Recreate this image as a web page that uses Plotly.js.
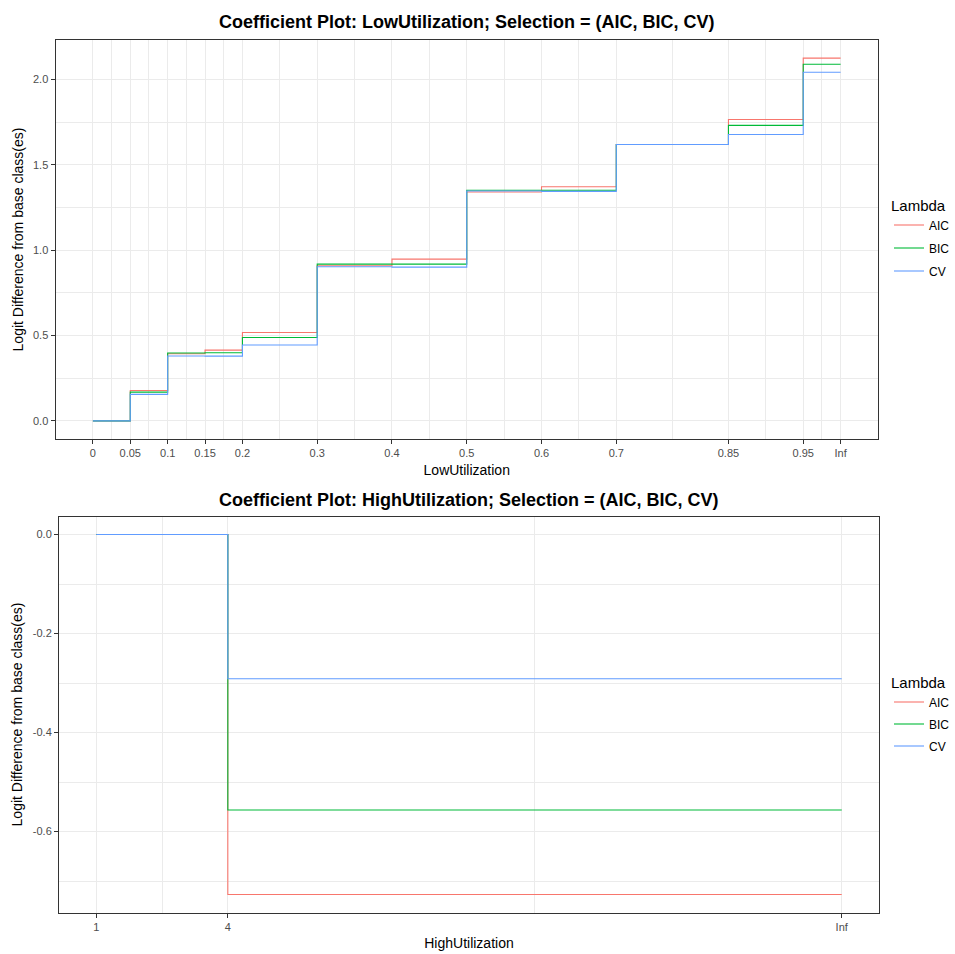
<!DOCTYPE html>
<html>
<head>
<meta charset="utf-8">
<script src="https://cdn.plot.ly/plotly-3.0.1.min.js"></script>
<style>html,body{margin:0;padding:0;background:#fff;}#chart{width:955px;height:954px;}</style>
</head>
<body>
<div id="chart"></div>
<script>
// ---- Data ----
const lambdas = ['AIC', 'BIC', 'CV'];
const colors = ['#F8766D', '#00BA38', '#619CFF'];

// LowUtilization breaks (Inf drawn at position 1.0)
const lowBreakLabels = ['0','0.05','0.1','0.15','0.2','0.3','0.4','0.5','0.6','0.7','0.85','0.95','Inf'];
const lowBreakPos = [0, 0.05, 0.1, 0.15, 0.2, 0.3, 0.4, 0.5, 0.6, 0.7, 0.85, 0.95, 1.0];
const lowAIC = [0, 0.178, 0.393, 0.414, 0.517, 0.908, 0.947, 1.340, 1.371, 1.618, 1.765, 2.124];
const lowBIC = [0, 0.168, 0.397, 0.399, 0.488, 0.918, 0.918, 1.350, 1.350, 1.618, 1.730, 2.088];
const lowCV  = [0, 0.155, 0.380, 0.379, 0.444, 0.902, 0.900, 1.346, 1.344, 1.618, 1.677, 2.041];

// HighUtilization breaks (Inf drawn at position 18)
const highBreakLabels = ['1', '4', 'Inf'];
const highBreakPos = [1, 4, 18];
const highAIC = [0, -0.727];
const highBIC = [0, -0.5565];
const highCV  = [0, -0.2915];

const lowTickY = [0, 0.5, 1.0, 1.5, 2.0];
const lowTickYText = ['0.0', '0.5', '1.0', '1.5', '2.0'];
const highTickY = [0, -0.2, -0.4, -0.6];
const highTickYText = ['0.0', '-0.2', '-0.4', '-0.6'];

// ---- helpers ----
function stepY(vals) { return vals.concat([vals[vals.length - 1]]); }
function mids(arr) { const m = []; for (let i = 0; i < arr.length - 1; i++) m.push((arr[i] + arr[i + 1]) / 2); return m; }
function minorY(ticks) { return mids(ticks.slice().sort((a, b) => a - b)); }

const lowSeries = [lowAIC, lowBIC, lowCV];
const highSeries = [highAIC, highBIC, highCV];

const traces = [];
lowSeries.forEach((s, i) => {
  traces.push({
    x: lowBreakPos, y: stepY(s), type: 'scatter', mode: 'lines',
    line: {shape: 'hv', color: colors[i], width: 1.1},
    name: lambdas[i], legendgroup: 'a' + i, legend: 'legend',
    xaxis: 'x', yaxis: 'y', hoverinfo: 'x+y+name'
  });
});
highSeries.forEach((s, i) => {
  traces.push({
    x: highBreakPos, y: stepY(s), type: 'scatter', mode: 'lines',
    line: {shape: 'hv', color: colors[i], width: 1.1},
    name: lambdas[i], legendgroup: 'b' + i, legend: 'legend2',
    xaxis: 'x2', yaxis: 'y2', hoverinfo: 'x+y+name'
  });
});

const W = 955, H = 954;
const gridC = '#EBEBEB', lineC = '#333333', tickFontC = '#4D4D4D';
const fontFam = '"Liberation Sans", Arial, sans-serif';

function axisCommon() {
  return {
    showline: true, mirror: true, linecolor: lineC, linewidth: 1,
    ticks: 'outside', ticklen: 4, tickwidth: 1, tickcolor: lineC,
    showgrid: true, gridcolor: gridC, gridwidth: 1.1, zeroline: false,
    tickfont: {family: fontFam, size: 11, color: tickFontC},
    tickmode: 'array', fixedrange: true
  };
}

const lowX = Object.assign(axisCommon(), {
  domain: [55.5 / W, 878 / W], anchor: 'y',
  range: [-0.05, 1.05], tickvals: lowBreakPos, ticktext: lowBreakLabels,
  minor: {tickmode: 'array', tickvals: mids(lowBreakPos), showgrid: true, gridcolor: gridC, gridwidth: 0.55, ticks: ''},
  title: {text: 'LowUtilization', font: {family: fontFam, size: 14, color: '#000'}, standoff: 6}
});
const lowY = Object.assign(axisCommon(), {
  domain: [1 - 439 / H, 1 - 40 / H], anchor: 'x',
  range: [-0.1062, 2.2302], tickvals: lowTickY, ticktext: lowTickYText,
  minor: {tickmode: 'array', tickvals: minorY(lowTickY), showgrid: true, gridcolor: gridC, gridwidth: 0.55, ticks: ''},
  title: {text: 'Logit Difference from base class(es)', font: {family: fontFam, size: 14, color: '#000'}, standoff: 6}
});
const highX = Object.assign(axisCommon(), {
  domain: [59 / W, 879 / W], anchor: 'y2',
  range: [0.15, 18.85], tickvals: highBreakPos, ticktext: highBreakLabels,
  minor: {tickmode: 'array', tickvals: mids(highBreakPos), showgrid: true, gridcolor: gridC, gridwidth: 0.55, ticks: ''},
  title: {text: 'HighUtilization', font: {family: fontFam, size: 14, color: '#000'}, standoff: 6}
});
const highY = Object.assign(axisCommon(), {
  domain: [1 - 912.5 / H, 1 - 516.5 / H], anchor: 'x2',
  range: [-0.7635, 0.03635], tickvals: highTickY, ticktext: highTickYText,
  minor: {tickmode: 'array', tickvals: minorY(highTickY.concat([-0.8])), showgrid: true, gridcolor: gridC, gridwidth: 0.55, ticks: ''},
  title: {text: 'Logit Difference from base class(es)', font: {family: fontFam, size: 14, color: '#000'}, standoff: 6}
});

function legendCfg(yTop, gap) {
  return {
    x: 889 / W, xanchor: 'left', y: 1 - yTop / H, yanchor: 'top',
    title: {text: 'Lambda', font: {family: fontFam, size: 15, color: '#000'}},
    font: {family: fontFam, size: 12, color: '#000'},
    bgcolor: 'rgba(0,0,0,0)', borderwidth: 0, tracegroupgap: gap,
    itemwidth: 30
  };
}

const layout = {
  width: W, height: H, autosize: false,
  margin: {l: 0, r: 0, t: 0, b: 0},
  paper_bgcolor: '#fff', plot_bgcolor: '#fff',
  font: {family: fontFam},
  showlegend: true,
  xaxis: lowX, yaxis: lowY, xaxis2: highX, yaxis2: highY,
  legend: legendCfg(191, 4),
  legend2: legendCfg(668, 3),
  annotations: [
    {text: '<b>Coefficient Plot: LowUtilization; Selection = (AIC, BIC, CV)</b>', xref: 'paper', yref: 'paper',
     x: (55.5 + 878) / 2 / W, y: 1 - 22 / H, xanchor: 'center', yanchor: 'middle', showarrow: false,
     font: {family: fontFam, size: 18, color: '#000'}},
    {text: '<b>Coefficient Plot: HighUtilization; Selection = (AIC, BIC, CV)</b>', xref: 'paper', yref: 'paper',
     x: (59 + 879) / 2 / W, y: 1 - 500 / H, xanchor: 'center', yanchor: 'middle', showarrow: false,
     font: {family: fontFam, size: 18, color: '#000'}}
  ]
};

Plotly.newPlot('chart', traces, layout, {displayModeBar: false, staticPlot: false});
</script>
</body>
</html>
